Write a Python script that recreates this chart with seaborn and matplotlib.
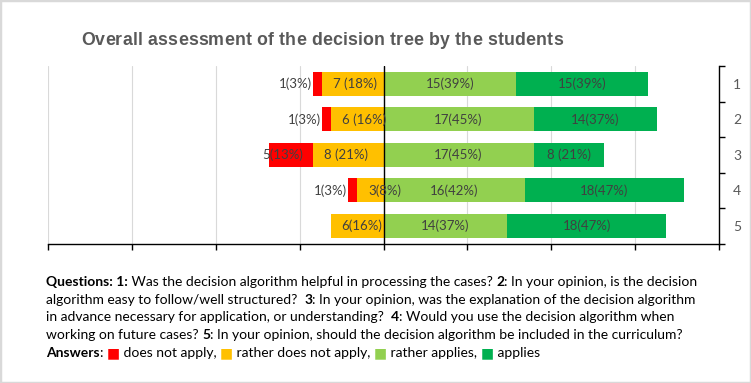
import numpy as np
import pandas as pd
import matplotlib
matplotlib.use("Agg")
from matplotlib import pyplot as plt
from matplotlib.patches import Rectangle
import seaborn as sns

# answers per question (38 students)
questions = ["1", "2", "3", "4", "5"]
not_apply = [1, 1, 5, 1, 0]
rather_not = [7, 6, 8, 3, 6]
rather_applies = [15, 17, 17, 16, 14]
applies = [15, 14, 8, 18, 18]
n_students = 38

lbl_not_apply = ["1(3%)", "1(3%)", "5(13%)", "1(3%)", ""]
lbl_rather_not = ["7 (18%)", "6 (16%)", "8 (21%)", "3(8%)", "6(16%)"]
lbl_rather_applies = ["15(39%)", "17(45%)", "17(45%)", "16(42%)", "14(37%)"]
lbl_applies = ["15(39%)", "14(37%)", "8 (21%)", "18(47%)", "18(47%)"]

title = "Overall assessment of the decision tree by the students"

c_red, c_orange, c_light, c_dark = "#FF0000", "#FFC000", "#92D050", "#00B050"
c_text = "#404040"
c_cap = "#000000"

sns.set_theme(style="white")
plt.rcParams['font.family'] = ['Lato', 'DejaVu Sans']

df = pd.DataFrame({
    'q': questions,
    'neg_all': -(np.array(not_apply) + np.array(rather_not)),
    'neg_orange': -np.array(rather_not),
    'pos_all': np.array(rather_applies) + np.array(applies),
    'pos_light': np.array(rather_applies),
})

W, H = 751, 383
fig = plt.figure(figsize=(W / 100, H / 100), dpi=100)
ax = fig.add_axes([48 / W, 1 - 243.7 / H, 671 / W, 177.7 / H])

# stacked look: draw cumulative bars first, inner segments on top
for col, color in [('pos_all', c_dark), ('pos_light', c_light),
                   ('neg_all', c_red), ('neg_orange', c_orange)]:
    sns.barplot(data=df, x=col, y='q', orient='h', color=color, saturation=1,
                width=0.67, errorbar=None, linewidth=0, ax=ax)

ax.axvline(0, color='black', lw=1, zorder=5)

lim = n_students
ax.set_xlim(-lim, lim)
ax.set_xticks(np.arange(-lim, lim + 0.1, lim / 4))
ax.set_xticklabels([])
ax.grid(axis='x', color='#d9d9d9', lw=0.8)
ax.set_axisbelow(True)
ax.tick_params(axis='x', direction='out', length=4, width=1, color='black', bottom=True)

ax.set_ylim(4.5, -0.5)
ax.yaxis.tick_right()
ax.set_yticks(np.arange(-0.5, 5, 1))
ax.set_yticklabels([])
ax.set_yticks(range(5), minor=True)
ax.set_yticklabels(questions, minor=True)
ax.tick_params(axis='y', which='major', direction='out', length=4, width=1, color='black', right=True)
ax.tick_params(axis='y', which='minor', length=0, pad=10, labelsize=10, labelcolor='#595959')
ax.set_xlabel('')
ax.set_ylabel('')

for side in ['left', 'top']:
    ax.spines[side].set_visible(False)
for side in ['bottom', 'right']:
    ax.spines[side].set_visible(True)
    ax.spines[side].set_color('black')
    ax.spines[side].set_linewidth(1)

# data labels
lab_kw = dict(fontsize=9.5, color=c_text, va='center', textcoords='offset pixels', zorder=6)
for i in range(5):
    if lbl_not_apply[i]:
        ax.annotate(lbl_not_apply[i], (-rather_not[i], i), xytext=(-10, 0), ha='right', **lab_kw)
    ax.annotate(lbl_rather_not[i], (-rather_not[i], i), xytext=(11, 0), ha='left', **lab_kw)
    ax.annotate(lbl_rather_applies[i], (rather_applies[i] / 2, i), xytext=(0, 0), ha='center', **lab_kw)
    ax.annotate(lbl_applies[i], (rather_applies[i] + applies[i] / 2, i), xytext=(0, 0), ha='center', **lab_kw)

renderer = fig.canvas.get_renderer()


def text_width(s, bold, size, family=None):
    kw = dict(fontsize=size, fontweight='bold' if bold else 'normal')
    if family:
        kw['family'] = family
    t = fig.text(0, 0, s + "|", **kw)
    t2 = fig.text(0, 0, "|", **kw)
    w = t.get_window_extent(renderer).width - t2.get_window_extent(renderer).width
    t.remove()
    t2.remove()
    return w


# title, spread to the original width
title_size, title_font = 12.8, 'Liberation Sans'
title_x0, title_w, title_base = 81, 482, 45
natural = text_width(title, True, title_size, title_font)
spacing = (title_w - natural) / (len(title) - 1)
for i, ch in enumerate(title):
    if ch == ' ':
        continue
    x = title_x0 + text_width(title[:i], True, title_size, title_font) + i * spacing
    fig.text(x / W, 1 - title_base / H, ch, fontsize=title_size, fontweight='bold',
             color='#595959', family=title_font, va='baseline', ha='left')

# caption with mixed bold parts
caption = [
    [("Questions: 1:", True, c_cap), (" Was the decision algorithm helpful in processing the cases? ", False, c_cap),
     ("2", True, c_cap), (": In your opinion, is the decision", False, c_cap)],
    [("algorithm easy to follow/well structured?  ", False, c_cap), ("3", True, c_cap),
     (": In your opinion, was the explanation of the decision algorithm", False, c_cap)],
    [("in advance necessary for application, or understanding?  ", False, c_cap), ("4", True, c_cap),
     (": Would you use the decision algorithm when", False, c_cap)],
    [("working on future cases? ", False, c_cap), ("5", True, c_cap),
     (": In your opinion, should the decision algorithm be included in the curriculum?", False, c_cap)],
    [("Answers", True, c_cap), (": ", False, c_cap), ("\u25a0", False, c_red), (" does not apply, ", False, c_cap),
     ("\u25a0", False, c_orange), (" rather does not apply, ", False, c_cap), ("\u25a0", False, c_light),
     (" rather applies, ", False, c_cap), ("\u25a0", False, c_dark), (" applies", False, c_cap)],
]
cap_size = 10.0
baselines = [286, 304, 321, 339, 357]

for line, yb in zip(caption, baselines):
    x = 46
    for s, bold, color in line:
        fig.text(x / W, 1 - yb / H, s, fontsize=cap_size, color=color,
                 fontweight='bold' if bold else 'normal', va='baseline', ha='left')
        x += text_width(s, bold, cap_size)

fig.patches.append(Rectangle((0, 0), 1, 1, transform=fig.transFigure, fill=False,
                             edgecolor='#d9d9d9', lw=2.5))

fig.savefig('out.png', dpi=100, facecolor='white')
